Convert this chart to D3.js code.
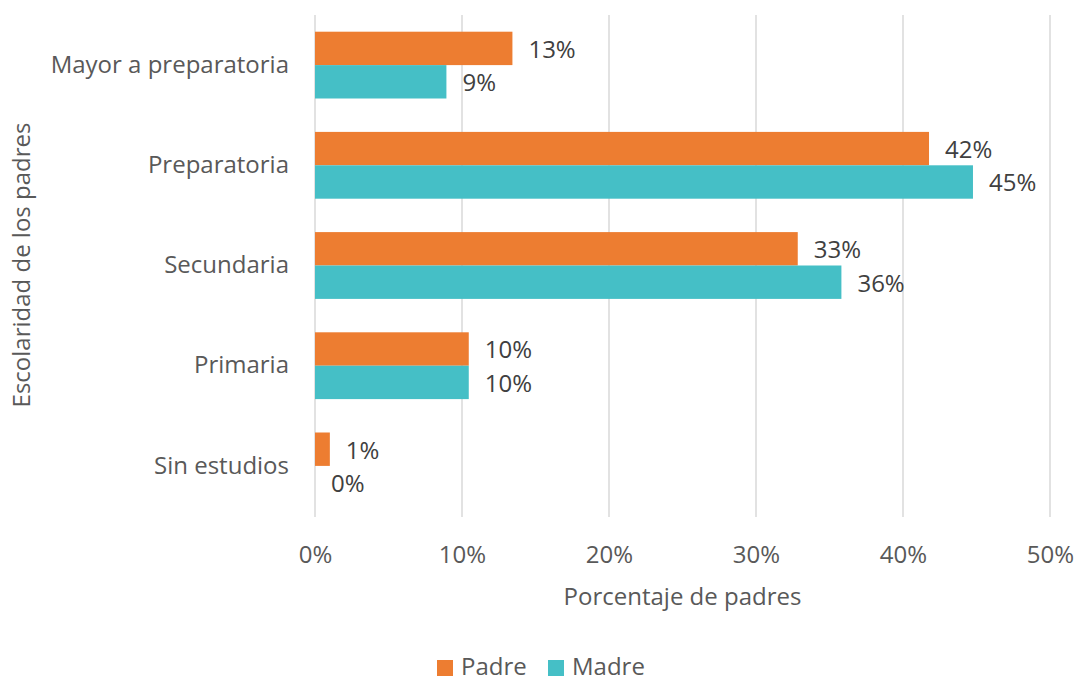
<!DOCTYPE html>
<html>
<head>
<meta charset="utf-8">
<script src="https://cdn.jsdelivr.net/npm/d3@7"></script>
<style>
  html, body { margin: 0; padding: 0; background: #ffffff; }
  svg { display: block; font-family: "Open Sans", "Noto Sans", sans-serif; }
</style>
</head>
<body>
<svg id="chart" width="1080" height="682"></svg>
<script>
// Escolaridad de los padres (fracciones)
const categories = ["Mayor a preparatoria", "Preparatoria", "Secundaria", "Primaria", "Sin estudios"];
const seriesNames = ["Padre", "Madre"];
const padreValues = [0.1343, 0.4177, 0.3284, 0.1046, 0.0101];
const madreValues = [0.0894, 0.4476, 0.3581, 0.1046, 0.0];
const xTicks = [0, 0.1, 0.2, 0.3, 0.4, 0.5];
const colors = ["#ED7D31", "#45BFC6"];

const series = [padreValues, madreValues];
const FS = 24;

const svg = d3.select("#chart");
const margin = { left: 315, top: 15 };

const g = svg.append("g").attr("transform", `translate(${margin.left},${margin.top})`);

const x = d3.scaleLinear().domain([0, 0.5]).range([0, 735]);
const y = d3.scaleBand().domain(categories).range([0, 501]).paddingInner(1 / 3).paddingOuter(1 / 6);
const ySub = d3.scaleBand().domain(seriesNames).range([0, y.bandwidth()]);

const pct = d3.format(".0%");

// Vertical gridlines
g.append("g")
  .selectAll("line")
  .data(xTicks)
  .join("line")
  .attr("x1", d => x(d)).attr("x2", d => x(d))
  .attr("y1", 0).attr("y2", 502)
  .attr("stroke", "#d9d9d9")
  .attr("stroke-width", 1.5);

// X axis labels
const xAxis = d3.axisBottom(x).tickValues(xTicks).tickFormat(pct).tickSize(0).tickPadding(0);
const xa = g.append("g").attr("transform", `translate(0,502)`).call(xAxis);
xa.select(".domain").remove();
xa.selectAll("text")
  .attr("y", 38)
  .attr("dy", "0.35em")
  .attr("fill", "#595959")
  .attr("font-size", FS)
  .attr("font-family", "Open Sans, sans-serif");

// Y axis labels
const yAxis = d3.axisLeft(y).tickSize(0).tickPadding(26);
const ya = g.append("g").call(yAxis);
ya.select(".domain").remove();
ya.selectAll("text")
  .attr("fill", "#595959")
  .attr("font-size", FS)
  .attr("font-family", "Open Sans, sans-serif");

// Bars and value labels
series.forEach((vals, si) => {
  const name = seriesNames[si];
  const grp = g.append("g");
  grp.selectAll("rect")
    .data(vals)
    .join("rect")
    .attr("x", 0)
    .attr("y", (d, i) => y(categories[i]) + ySub(name))
    .attr("width", d => x(d))
    .attr("height", ySub.bandwidth())
    .attr("fill", colors[si]);
  grp.selectAll("text")
    .data(vals)
    .join("text")
    .attr("x", d => x(d) + 16)
    .attr("y", (d, i) => y(categories[i]) + ySub(name) + ySub.bandwidth() / 2 + 1)
    .attr("dy", "0.35em")
    .attr("fill", "#404040")
    .attr("font-size", FS)
    .text(d => pct(d));
});

// Axis titles
svg.append("text")
  .attr("x", margin.left + 735 / 2)
  .attr("y", 597)
  .attr("dy", "0.35em")
  .attr("text-anchor", "middle")
  .attr("fill", "#595959")
  .attr("font-size", FS)
  .text("Porcentaje de padres");

svg.append("text")
  .attr("transform", `translate(22,265) rotate(-90)`)
  .attr("dy", "0.35em")
  .attr("text-anchor", "middle")
  .attr("fill", "#595959")
  .attr("font-size", FS)
  .text("Escolaridad de los padres");

// Legend
const legend = svg.append("g").attr("transform", "translate(437,660)");
const legendX = [0, 111];
seriesNames.forEach((n, i) => {
  const item = legend.append("g").attr("transform", `translate(${legendX[i]},0)`);
  item.append("rect").attr("width", 16).attr("height", 16).attr("fill", colors[i]);
  item.append("text")
    .attr("x", 24).attr("y", 7).attr("dy", "0.35em")
    .attr("fill", "#595959")
    .attr("font-size", FS)
    .text(n);
});
</script>
</body>
</html>
